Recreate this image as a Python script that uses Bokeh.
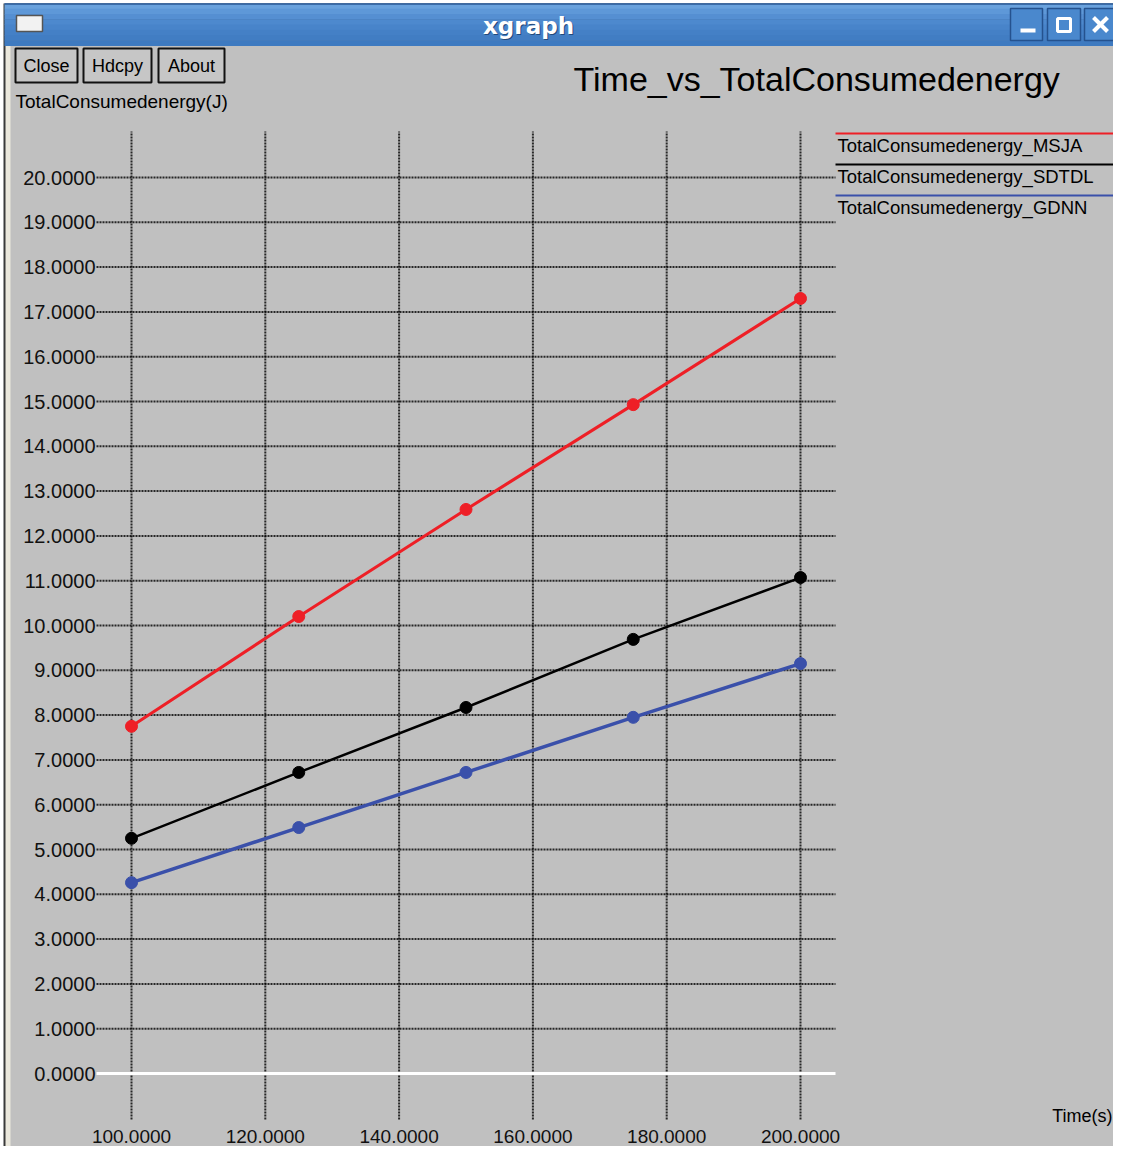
from bokeh.plotting import figure
from bokeh.models import Range1d
from bokeh.core.properties import value
from bokeh.embed import file_html
from bokeh.resources import INLINE

# ---------------- data ----------------
time_s = [100, 125, 150, 175, 200]
energy_msja = [7.75, 10.20, 12.59, 14.93, 17.30]
energy_sdtdl = [5.25, 6.72, 8.17, 9.69, 11.07]
energy_gdnn = [4.26, 5.49, 6.72, 7.95, 9.15]

series_names = ["TotalConsumedenergy_MSJA", "TotalConsumedenergy_SDTDL", "TotalConsumedenergy_GDNN"]
series_colors = ["#ee1f26", "#000000", "#3a50aa"]

x_ticks = [100, 120, 140, 160, 180, 200]
x_tick_labels = ["100.0000", "120.0000", "140.0000", "160.0000", "180.0000", "200.0000"]
y_ticks = [0, 1, 2, 3, 4, 5, 6, 7, 8, 9, 10, 11, 12, 13, 14, 15, 16, 17, 18, 19, 20]
y_tick_labels = ["0.0000", "1.0000", "2.0000", "3.0000", "4.0000", "5.0000", "6.0000",
                 "7.0000", "8.0000", "9.0000", "10.0000", "11.0000", "12.0000", "13.0000",
                 "14.0000", "15.0000", "16.0000", "17.0000", "18.0000", "19.0000", "20.0000"]

title_text = "Time_vs_TotalConsumedenergy"
y_label = "TotalConsumedenergy(J)"
x_label = "Time(s)"
window_title = "xgraph"
button_labels = ["Close", "Hdcpy", "About"]

# ---------------- layout (reference pixel frame) ----------------
W, H = 1113, 1146
OX, OY = 0, 0
PX_X100, PX_X200 = 131.0, 800.0
PX_Y0, PX_Y20 = 1073.0, 177.0
sx = (PX_X200 - PX_X100) / 100.0
sy = (PX_Y0 - PX_Y20) / 20.0

def dx(px):
    return 100.0 + (px - PX_X100) / sx

def dy(py):
    return (PX_Y0 - py) / sy

FONT = "Liberation Sans"

p = figure(width=W, height=H, output_backend="svg", toolbar_location=None,
           x_axis_type=None, y_axis_type=None, min_border=0, title=None,
           x_range=Range1d(dx(OX), dx(OX + W)), y_range=Range1d(dy(OY + H), dy(OY)),
           background_fill_color="white", border_fill_color="white",
           outline_line_color=None)
p.extra_x_ranges = {"px": Range1d(OX, OX + W)}
p.extra_y_ranges = {"px": Range1d(OY + H, OY)}
PX = dict(x_range_name="px", y_range_name="px")

def pquad(l, r, t, b, fill, line=None, lw=1):
    p.quad(left=[l], right=[r], top=[t], bottom=[b], fill_color=fill,
           line_color=line, line_width=lw, **PX)

def ptext(x, y, s, size, color="black", align="left", font=FONT, style="normal"):
    p.text(x=[x], y=[y], text=[s], text_font=value(font), text_font_size=f"{size}px",
           text_color=color, text_align=align, text_baseline="middle", text_font_style=style, **PX)

# window frame
pquad(3, 1125, 3, 1158, "#3a3a3a")
pquad(5, 1123, 40, 1156, "#ebe8dc")
pquad(10, 1119, 45, 1149, "#c0c0c0")
# title bar gradient
bands = ["#6aa2dd", "#5e98d8", "#558fd2", "#4d89ce", "#4884ca", "#4480c6", "#417dc3", "#3e7ac0"]
h = (45 - 3) / len(bands)
for i, c in enumerate(bands):
    pquad(4, 1124, 3 + i * h, 3 + (i + 1) * h + 0.5, c)
p.segment(x0=[4], y0=[3.5], x1=[1124], y1=[3.5], line_color="#2c5a96", line_width=1.5, **PX)
# left icon
pquad(16, 42, 15, 31, "#f2f2f2", "#555555", 1.5)
# window control buttons
for l, r in [(1010, 1042), (1047, 1080), (1084, 1117)]:
    pquad(l, r, 8, 40, "#4a88cd", "#25528e", 1.5)
p.segment(x0=[1020], y0=[30], x1=[1035], y1=[30], line_color="white", line_width=4, **PX)
p.quad(left=[1057], right=[1070], top=[18], bottom=[31], fill_color=None, line_color="white",
       line_width=3, **PX)
p.segment(x0=[1093, 1093], y0=[17, 31], x1=[1107, 1107], y1=[31, 17], line_color="white",
          line_width=4, **PX)
ptext(529, 26, window_title, 23, color="#234a7c", align="center", font="DejaVu Sans", style="bold")
ptext(528, 25, window_title, 23, color="white", align="center", font="DejaVu Sans", style="bold")

# buttons
for (l, r), lab in zip([(15, 77), (83, 151), (158, 224)], button_labels):
    pquad(l, r, 48, 82, "#c6c6c6", "#111111", 2)
    ptext((l + r) / 2, 65, lab, 18, align="center")

# titles and axis labels
ptext(573, 78, title_text, 34)
ptext(15, 101, y_label, 19)
ptext(1112, 1115, x_label, 18, align="right")

# ---------------- grid (from tick arrays) ----------------
gcol = "#000000"
nx = len(x_ticks)
p.segment(x0=x_ticks, x1=x_ticks, y0=[dy(1119)] * nx, y1=[dy(131)] * nx,
          line_color=gcol, line_width=2, line_dash="2 1", line_alpha=0.8)
ny = len(y_ticks) - 1
p.segment(x0=[dx(96)] * ny, x1=[dx(835)] * ny, y0=y_ticks[1:], y1=y_ticks[1:],
          line_color=gcol, line_width=2, line_dash="2 1", line_alpha=0.8)
p.segment(x0=[dx(96)], y0=[y_ticks[0]], x1=[dx(835)], y1=[y_ticks[0]], line_color="white", line_width=3)

# tick labels
p.text(x=[95] * len(y_ticks), y=y_ticks, text=y_tick_labels, text_font=value(FONT),
       text_font_size="20px", text_align="right", text_baseline="middle", text_color="#111111",
       x_range_name="px")
p.text(x=x_ticks, y=[1136] * len(x_ticks), text=x_tick_labels, text_font=value(FONT),
       text_font_size="19px", text_align="center", text_baseline="middle", text_color="#111111",
       y_range_name="px")

# ---------------- series ----------------
for ys, col, lw in zip([energy_msja, energy_sdtdl, energy_gdnn], series_colors, [3, 2.5, 3.5]):
    p.line(time_s, ys, line_color=col, line_width=lw)
    p.scatter(time_s, ys, size=12, fill_color=col, line_color=col)

# ---------------- legend ----------------
for i, (name, col) in enumerate(zip(series_names, series_colors)):
    ly = 133 + i * 31
    p.segment(x0=[835], y0=[ly], x1=[1113], y1=[ly], line_color=col, line_width=2, **PX)
    ptext(837, ly + 12, name, 18.5)

open("out.html", "w").write(file_html(p, INLINE))
